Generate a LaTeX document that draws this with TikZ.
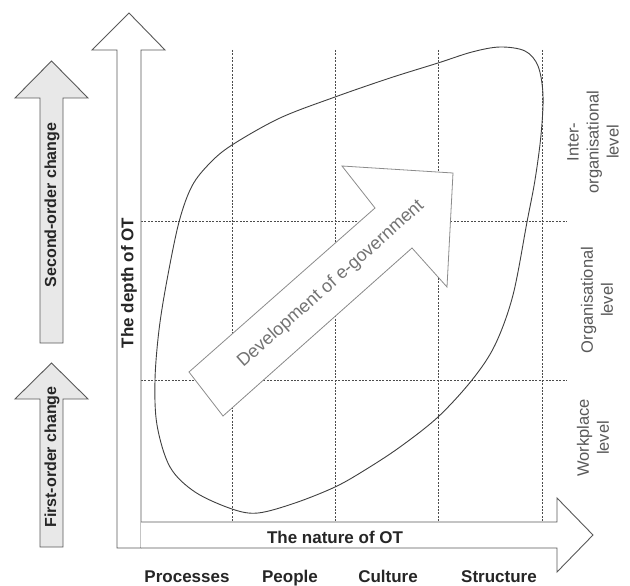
\documentclass[tikz,border=0pt]{standalone}
\usepackage{fontspec}
\setmainfont{Liberation Sans}
\begin{document}
\begin{tikzpicture}[x=1pt,y=-1pt,
  axisarrow/.style={draw=black!65,line width=0.9pt,fill=white,line join=miter},
  changearrow/.style={draw=black!65,line width=0.9pt,fill=black!9,line join=miter},
  gridline/.style={draw=black!70,line width=0.7pt,dash pattern=on 2pt off 1.4pt},
  blobline/.style={draw=black!75,line width=0.9pt},
  devarrow/.style={draw=black!45,line width=0.8pt,fill=white,line join=miter},
  axislabel/.style={font=\bfseries\fontsize{17}{20}\selectfont,text=black!85,inner sep=0pt},
  catlabel/.style={font=\bfseries\fontsize{17}{20}\selectfont,text=black!85,inner sep=0pt},
  changelabel/.style={font=\bfseries\fontsize{16}{19}\selectfont,text=black!85,inner sep=0pt,rotate=90},
  levellabel/.style={font=\fontsize{16.5}{20}\selectfont,text=black!65,inner sep=0pt,rotate=90,align=center},
  devlabel/.style={font=\fontsize{18}{20}\selectfont,text=black!55,inner sep=0pt,rotate=41.5}]
\useasboundingbox (0,0) rectangle (630,586);
\fill[white] (0,0) rectangle (630,586);

% grid
\draw[gridline] (232,50) -- (232,522);
\draw[gridline] (335,50) -- (335,522);
\draw[gridline] (438,50) -- (438,522);
\draw[gridline] (542,50) -- (542,522);
\draw[gridline] (141,221) -- (567,221);
\draw[gridline] (141,380) -- (567,380);

% blob
\draw[blobline] plot[smooth cycle, tension=0.55] coordinates {
 (500,47) (525,51) (538,66) (543,95) (541,135) (535,180) (527,222) (513,295)
 (495,345) (472,380) (438,417) (400,447) (365,470) (335,487) (295,503) (258,513)
 (232,509) (195,492) (170,467) (157,425) (155,380) (159,330) (167,280) (179,222)
 (192,186) (210,163) (232,145) (280,118) (335,97) (390,78) (438,63) (472,52)};

% development arrow
\draw[devarrow] (189,372) -- (375,208) -- (342,166) -- (453,173) -- (447,287)
  -- (412,248) -- (223,416) -- cycle;
\node[devlabel] (dev) at (331,284) {Development of e-government};

% axes
\draw[axisarrow] (117,548) -- (117,50) -- (92,50) -- (129,13) -- (165,50)
  -- (141,50) -- (141,548) -- cycle;
\draw[axisarrow] (141,522) -- (557,522) -- (557,498) -- (593,535) -- (557,572)
  -- (557,548) -- (141,548);
\node[axislabel,rotate=90] (depth) at (129,283) {The depth of OT};
\node[axislabel] (nature) at (335,537) {The nature of OT};

% change arrows
\draw[changearrow] (40,343) -- (40,98) -- (15,98) -- (51.5,61) -- (88,98)
  -- (63,98) -- (63,343) -- cycle;
\draw[changearrow] (40,547) -- (40,399) -- (15,399) -- (51.5,363) -- (88,399)
  -- (63,399) -- (63,547) -- cycle;
\node[changelabel] (second) at (52,205) {Second-order change};
\node[changelabel] (first) at (52,457) {First-order change};

% categories
\node[catlabel,anchor=base] (proc) at (187,582) {Processes};
\node[catlabel,anchor=base] (peop) at (290,582) {People};
\node[catlabel,anchor=base] (cult) at (388,582) {Culture};
\node[catlabel,anchor=base] (stru) at (499,582) {Structure};

% levels
\node[levellabel] (inter) at (593,142) {Inter-\\organisational\\level};
\node[levellabel] (org) at (597,300) {Organisational\\level};
\node[levellabel] (work) at (593,438) {Workplace\\level};
\end{tikzpicture}
\end{document}
